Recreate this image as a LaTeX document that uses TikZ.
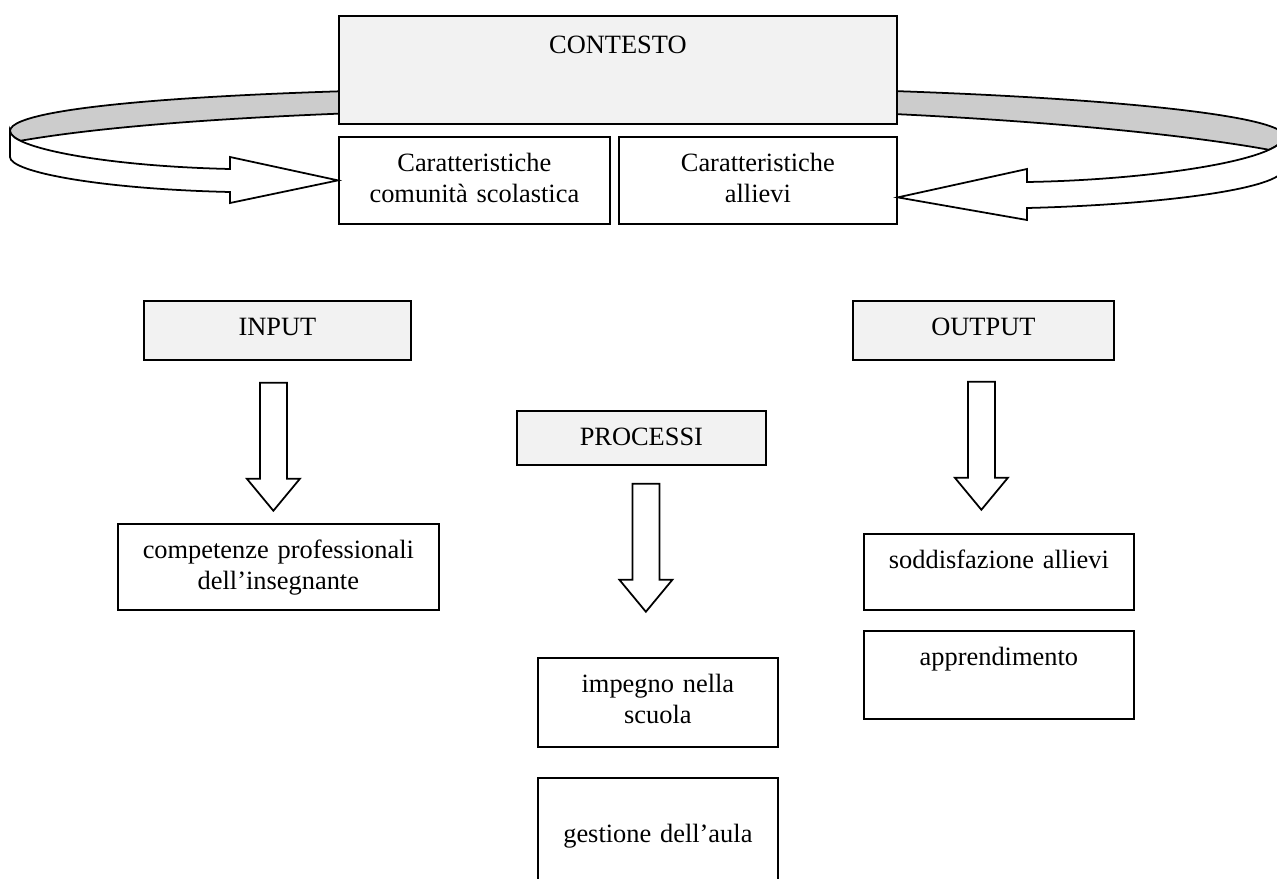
\documentclass[tikz,border=0pt]{standalone}
\usepackage{fontspec}
\setmainfont{Liberation Serif}
\usetikzlibrary{calc}
\newcommand{\pxu}{0.4545pt}

\begin{document}
\begin{tikzpicture}[x=\pxu, y=-\pxu, line width=0.8pt,
    font=\fontsize{12pt}{13.8pt}\selectfont,
    box/.style 2 args={draw, anchor=north west, inner sep=0pt, align=center,
        text width=#1*\pxu, text height=35*\pxu, text depth=(#2-35)*\pxu},
    head/.style={fill=gray!10},
    blockdown/.pic={\draw[fill=white] (-13.5,0) -- (13.5,0) -- (13.5,96) -- (26.5,96)
        -- (0,128) -- (-26.5,96) -- (-13.5,96) -- cycle;}]
  \useasboundingbox (0,0) rectangle (1277,879);
  \clip (0,0) rectangle (1277,879);

  % ring behind the context box
  \draw[fill=gray!40] (10,131) .. controls (10,103) and (270,87) .. (645,87)
      .. controls (995,87) and (1284,110) .. (1284,136)
      .. controls (1284,140.8) and (1278.6,145.4) .. (1269,149.8)
      .. controls (1150,128) and (900,108) .. (645,108)
      .. controls (400,108) and (150,118) .. (20.4,140.8)
      .. controls (13.6,137.5) and (10,134.2) .. (10,131) -- cycle;

  \node[box={558}{108}, head, text height=38*\pxu, text depth=70*\pxu] (contesto) at (338,15) {CONTESTO};
  \node[box={271}{87}] (car1) at (338,136) {Caratteristiche\\comunità scolastica};
  \node[box={278}{87}] (car2) at (618,136) {Caratteristiche\\allievi};

  \node[box={267}{59}, head] (input) at (143,300) {INPUT};
  \node[box={261}{59}, head] (output) at (852,300) {OUTPUT};
  \node[box={249}{54}, head] (processi) at (516,410) {PROCESSI};

  \node[box={321}{86}] (competenze) at (117,523) {competenze professionali\\dell’insegnante};
  \node[box={270}{76}] (soddisf) at (863,533) {soddisfazione allievi};
  \node[box={270}{88}] (apprend) at (863,630) {apprendimento};
  \node[box={240}{89}] (impegno) at (537,657) {impegno nella\\scuola};
  \node[box={240}{125}, text height=65*\pxu, text depth=60*\pxu] (gestione) at (537,777) {gestione dell’aula};

  % the two ends of the ring
  \draw[fill=white] (10,131) -- (10,157) .. controls (10,172) and (100,189) .. (230,192)
      -- (230,203) -- (car1.west) -- (230,157) -- (230,169)
      .. controls (100,166) and (10,147) .. (10,131) -- cycle;
  \draw[fill=white] (1284,136) -- (1284,168) .. controls (1284,190) and (1150,205) .. (1027,208)
      -- (1027,220) -- ($(car2.east)+(0,17)$) -- (1027,169) -- (1027,182)
      .. controls (1150,180) and (1284,160) .. (1284,136) -- cycle;

  \pic (arrin) at ($(input.south)+(-4,22)$) {blockdown};
  \pic (arrproc) at ($(processi.south)+(4.5,18)$) {blockdown};
  \pic (arrout) at ($(output.south)+(-2,21)$) {blockdown};
\end{tikzpicture}
\end{document}
